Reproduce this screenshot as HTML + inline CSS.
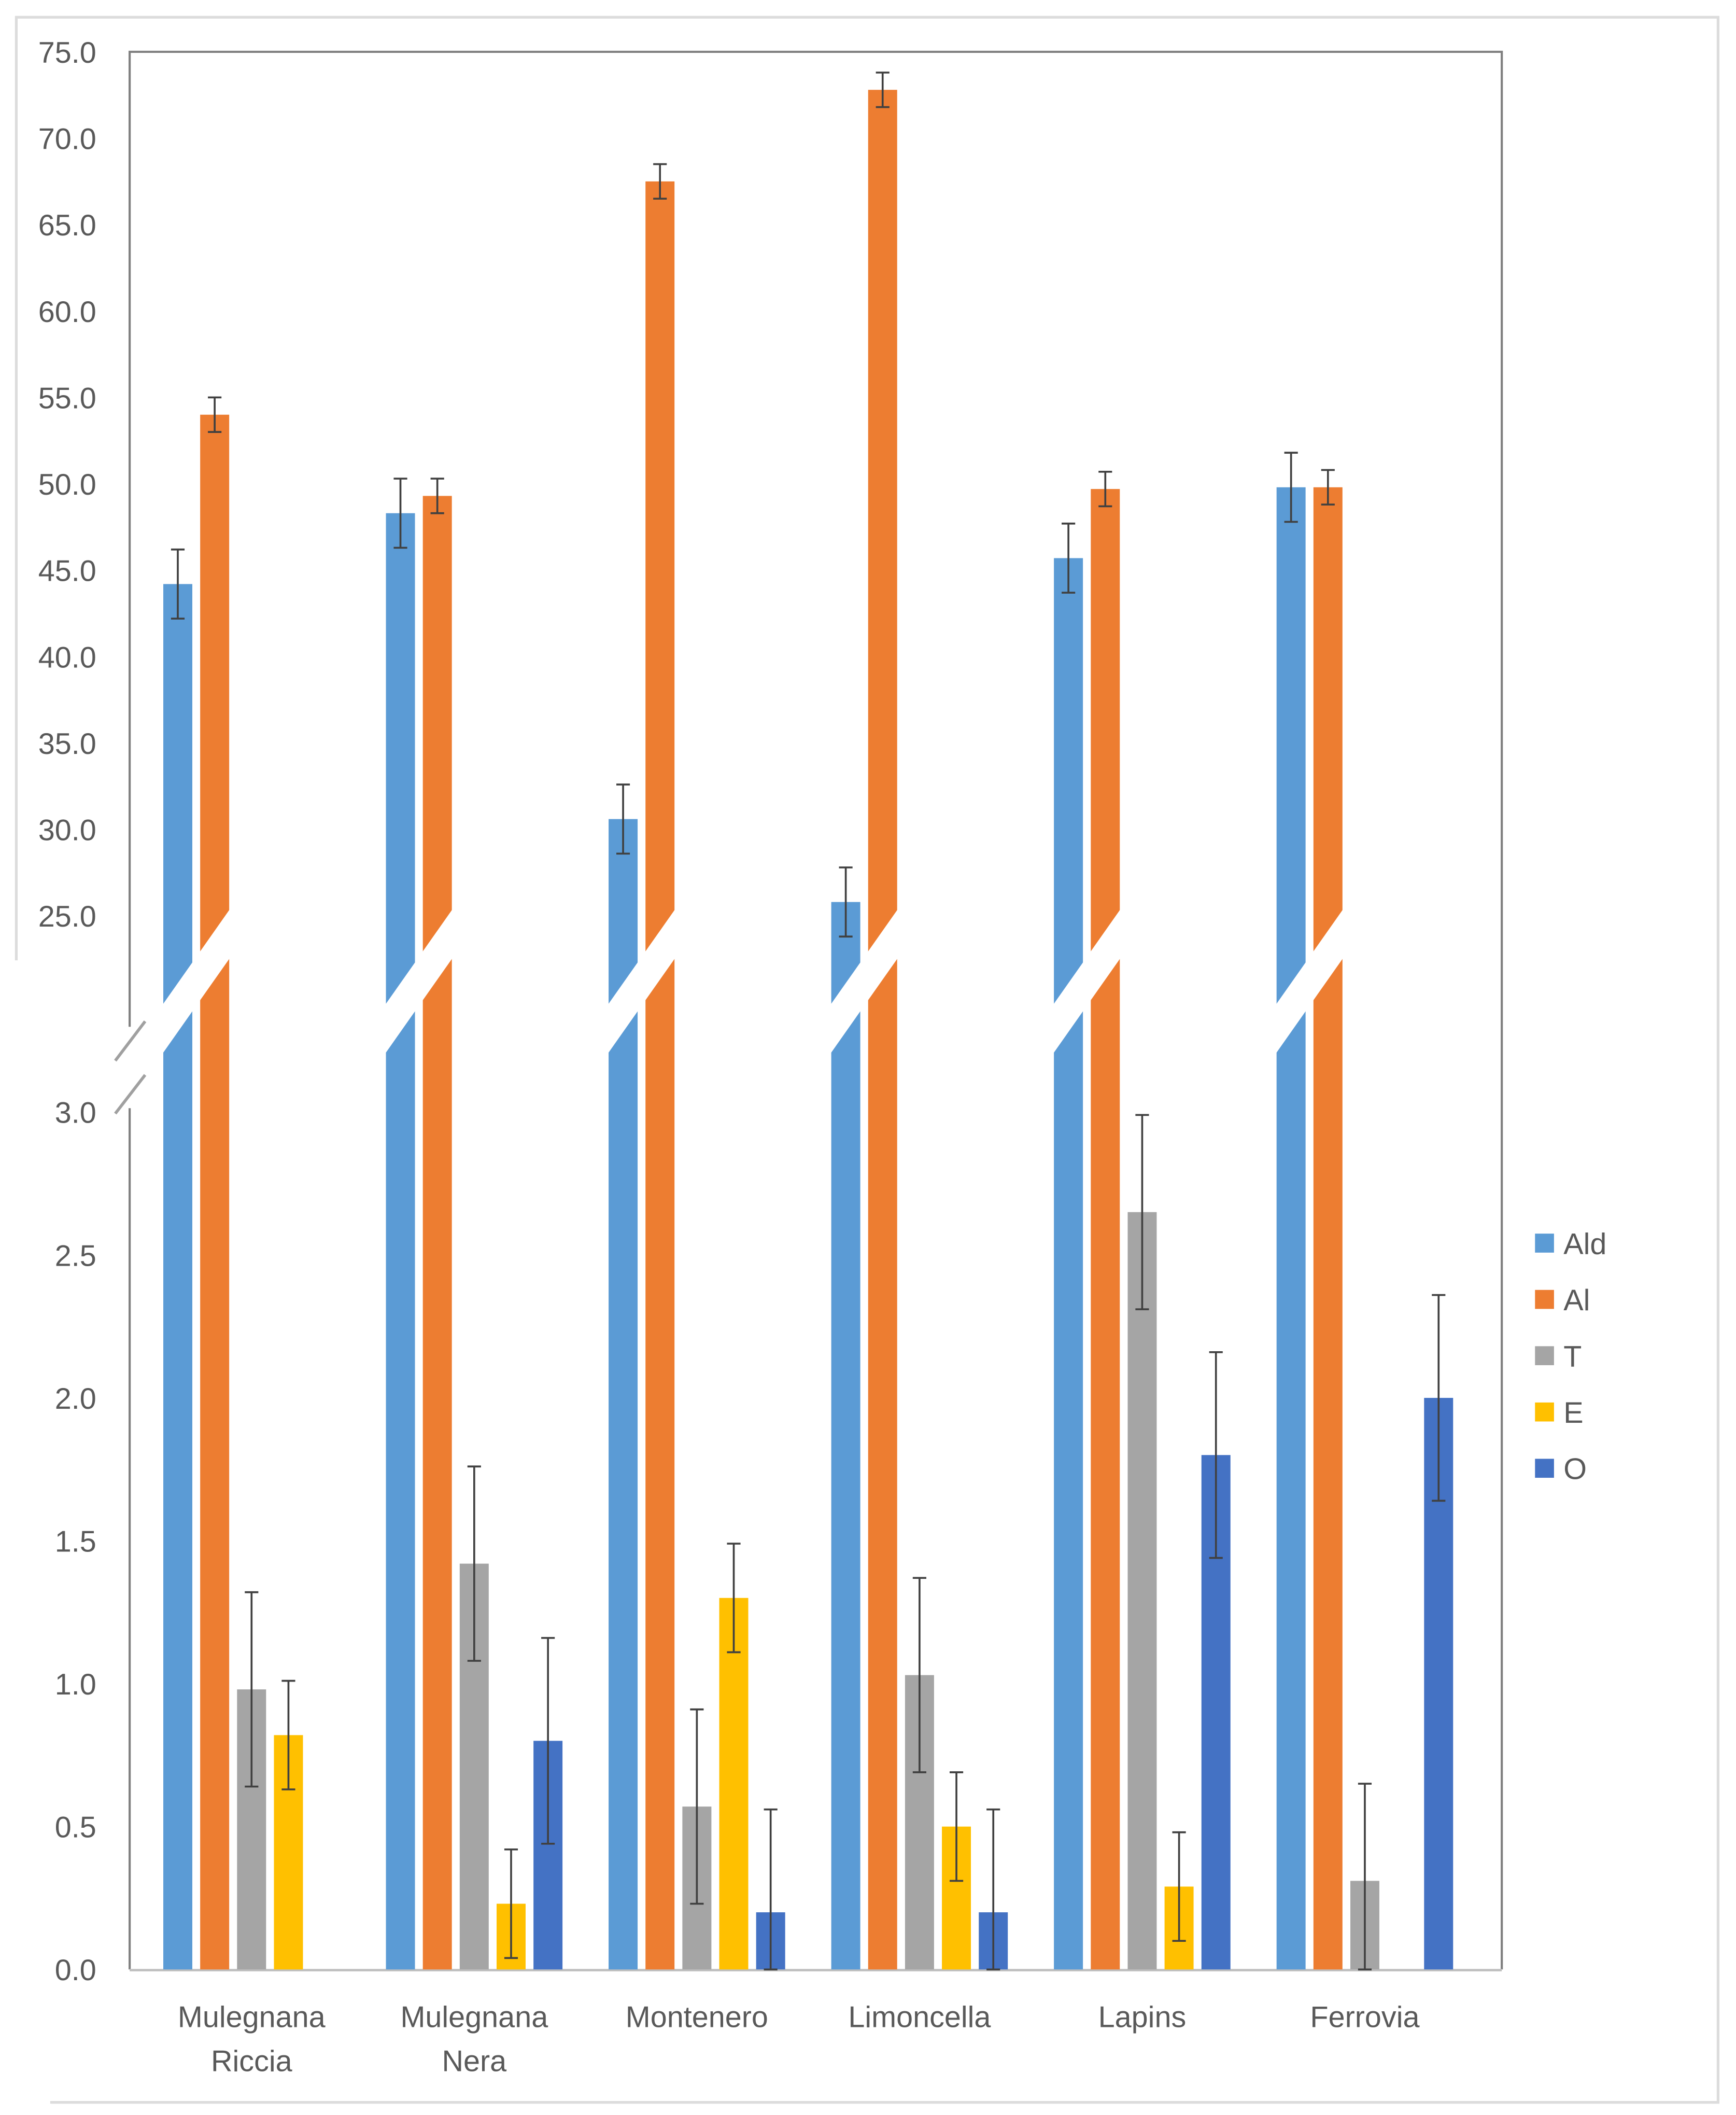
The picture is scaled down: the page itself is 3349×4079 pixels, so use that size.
<!DOCTYPE html>
<html><head><meta charset="utf-8"><style>
html,body{margin:0;padding:0;background:#fff;}
svg{display:block;}
text{font-family:"Liberation Sans",sans-serif;fill:#595959;}
</style></head><body>
<svg id="chart" width="3349" height="4079" viewBox="0 0 1280.2 1559.3" xmlns="http://www.w3.org/2000/svg">
<rect x="0" y="0" width="1280.2" height="1559.3" fill="#fff"/>
<path d="M12,708 V12.7 H1267 V1550 H37" fill="none" stroke="#dcdcdc" stroke-width="2"/>
<g id="axes"></g>
<g id="bars"></g>
<g id="legend"></g>
</svg>
<script>
const categories = ["Mulegnana|Riccia","Mulegnana|Nera","Montenero","Limoncella","Lapins","Ferrovia"];
const seriesNames = ["Ald","Al","T","E","O"];
const seriesColors = ["#5b9bd5","#ed7d31","#a5a5a5","#ffc000","#4472c4"];
const aldValues = [44.2,48.3,30.6,25.8,45.7,49.8];
const aldErr = [2.0,2.0,2.0,2.0,2.0,2.0];
const alValues = [54.0,49.3,67.5,72.8,49.7,49.8];
const alErr = [1.0,1.0,1.0,1.0,1.0,1.0];
const tValues = [0.98,1.42,0.57,1.03,2.65,0.31];
const tErr = [0.34,0.34,0.34,0.34,0.34,0.34];
const eValues = [0.82,0.23,1.30,0.50,0.29,0];
const eErr = [0.19,0.19,0.19,0.19,0.19,0];
const oValues = [0,0.80,0.20,0.20,1.80,2.00];
const oErr = [0,0.36,0.36,0.36,0.36,0.36];
const topTicks = [25,30,35,40,45,50,55,60,65,70,75];
const bottomTicks = [0,0.5,1.0,1.5,2.0,2.5,3.0];

const NS="http://www.w3.org/2000/svg";
const yT = v => 38.2 + (75 - v) * 12.74;
const yB = v => 1452 - v * 210.7;
const xC = i => 185.5 + i * 164.2;
const BW = 21.4, STEP = 27.2;
function mk(tag, attrs, parent){const e=document.createElementNS(NS,tag);for(const k in attrs)e.setAttribute(k,attrs[k]);parent.appendChild(e);return e;}
const axes=document.getElementById('axes'), bars=document.getElementById('bars'), legend=document.getElementById('legend');

let l=mk('path',{d:'M95.6,757 V38.2 H1107.5 V1452 M95.6,817 V1452',fill:'none',stroke:'#808080','stroke-width':1.6},axes);


let xa=mk('line',{x1:95.6,y1:1452.5,x2:1107.5,y2:1452.5,stroke:'#c0c0c0','stroke-width':1.8},axes);


let s1=mk('line',{x1:107,y1:753,x2:85,y2:782,stroke:'#a0a0a0','stroke-width':2.2},axes);


let s2=mk('line',{x1:107,y1:792.5,x2:85,y2:821,stroke:'#a0a0a0','stroke-width':2.2},axes);



topTicks.forEach(v=>{const t=mk('text',{x:71,y:yT(v)+8,'text-anchor':'end','font-size':22},axes);t.textContent=v.toFixed(1);

});
bottomTicks.forEach(v=>{const t=mk('text',{x:71,y:yB(v)+8,'text-anchor':'end','font-size':22},axes);t.textContent=v.toFixed(1);

});

function errBar(x,yTop,yBot){
  const g=mk('g',{stroke:'#404040','stroke-width':1.4},bars);
  
  
  mk('line',{x1:x,y1:yTop,x2:x,y2:yBot},g);
  mk('line',{x1:x-5,y1:yTop,x2:x+5,y2:yTop},g);
  mk('line',{x1:x-5,y1:yBot,x2:x+5,y2:yBot},g);
}

categories.forEach((c,i)=>{
  const cx=xC(i);
  const big=[[aldValues,aldErr],[alValues,alErr]];
  big.forEach((p,k)=>{
    const x=cx+(k-2)*STEP;
    const r=mk('rect',{x:x-BW/2,y:yT(p[0][i]),width:BW,height:1452-yT(p[0][i]),fill:seriesColors[k]},bars);
    
    
    errBar(x,yT(p[0][i]+p[1][i]),yT(p[0][i]-p[1][i]));
  });
  const bx=cx-2*STEP-BW/2;
  const x1=bx-4,x2=bx+STEP+BW+4;
  const up=x=>740-1.42*(x-bx);
  const b=mk('polygon',{points:`${x1},${up(x1)} ${x2},${up(x2)} ${x2},${up(x2)+36} ${x1},${up(x1)+36}`,fill:'#fff'},bars);
  
  
  const small=[[tValues,tErr],[eValues,eErr],[oValues,oErr]];
  small.forEach((p,k)=>{
    const x=cx+k*STEP, v=p[0][i];
    if(v>0){
      const r=mk('rect',{x:x-BW/2,y:yB(v),width:BW,height:1452-yB(v),fill:seriesColors[k+2]},bars);
      
      
    }
    if(p[1][i]>0) errBar(x,yB(v+p[1][i]),yB(Math.max(0,v-p[1][i])));
  });
  const parts=c.split('|');
  parts.forEach((t,j)=>{const tx=mk('text',{x:cx,y:1494.6+j*32.4,'text-anchor':'middle','font-size':22},axes);tx.textContent=t;
    
    });
});

seriesNames.forEach((n,k)=>{
  const g=mk('g',{},legend);
  
  
  const y=916.5+k*41.5;
  mk('rect',{x:1132,y:y-7,width:14,height:14,fill:seriesColors[k]},g);
  const t=mk('text',{x:1153,y:y+8,'font-size':22},g);t.textContent=n;
});
</script>
</body></html>
